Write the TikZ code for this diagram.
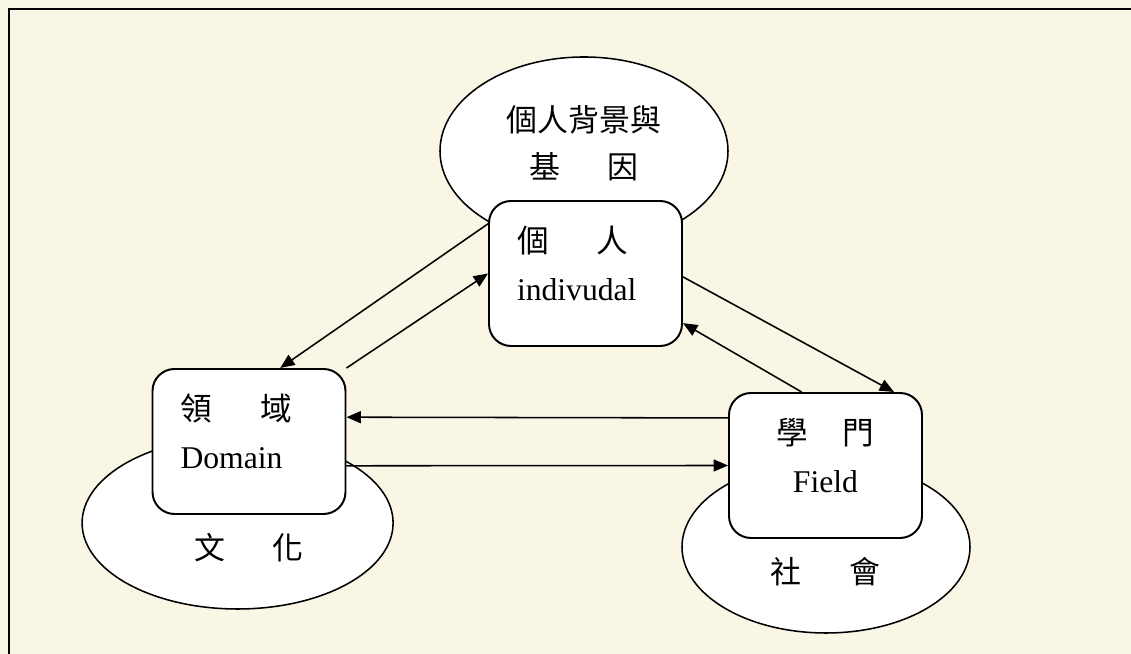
\documentclass[tikz,border=0pt]{standalone}
\usepackage{fontspec}
\setmainfont{Liberation Serif}
\newfontfamily\cjk{Noto Sans CJK TC}
\usetikzlibrary{positioning, arrows.meta, shapes}
\definecolor{paper}{RGB}{250,246,230}

\begin{document}
\begin{tikzpicture}[
    box/.style={draw, fill=white, rounded corners=0.55cm, line width=1.4pt, minimum width=4.825cm, minimum height=3.625cm, inner xsep=0.7cm, text width=3.425cm, text depth=1.7cm, font=\fontsize{22.5}{34}\selectfont},
    blob/.style={draw, fill=white, ellipse, line width=1.1pt},
    word/.style={inner sep=0pt, font=\cjk\fontsize{22}{34}\selectfont},
    link/.style={line width=1.1pt, -{Triangle[length=0.36cm, width=0.3cm]}}
]
    % Background and frame
    \fill[paper] (0,0) rectangle (28.275,16.35);
    \useasboundingbox (0,0) rectangle (28.275,16.35);
    \draw[line width=1.6pt] (0.225,0) -- (0.225,16.125) -- (28.275,16.125);

    % Ellipses behind the boxes
    \node[blob, minimum width=7.2cm, minimum height=4.7cm, align=center, text depth=0.45cm, font=\cjk\fontsize{22}{34}\selectfont] (gene) at (14.6,12.575) {個人背景與\\基\hspace{1.2cm}因};
    \node[blob, minimum width=7.775cm, minimum height=4.3cm] (culture) at (5.94,3.275) {};
    \node[blob, minimum width=7.2cm, minimum height=4.3cm] (society) at (20.65,2.675) {};

    % Boxes
    \node[box, align=left] (indiv) at (14.6375,9.5125) {{\cjk 個\hspace{1.2cm}人}\\indivudal};
    \node[box, align=left] (domain) at (6.225,5.3125) {{\cjk 領\hspace{1.2cm}域}\\Domain};
    \node[box, align=center] (field) at (20.6375,4.7125) {{\cjk 學\hspace{0.85cm}門}\\Field};

    % Labels under the boxes
    \node[word, below=0.45cm of domain] (culturetext) {文\hspace{1.2cm}化};
    \node[word, below=0.45cm of field] (societytext) {社\hspace{1.2cm}會};

    % Arrows
    \draw[link] (indiv.153) -- (domain.67);
    \draw[link] (domain.north east) -- (indiv.west);
    \draw[link] (indiv.358) -- (field.47);
    \draw[link] (field.108) -- (indiv.333);
    \draw[link] (field.154) -- (domain.14);
    \draw[link] (domain.346) -- (field.west);
\end{tikzpicture}
\end{document}
